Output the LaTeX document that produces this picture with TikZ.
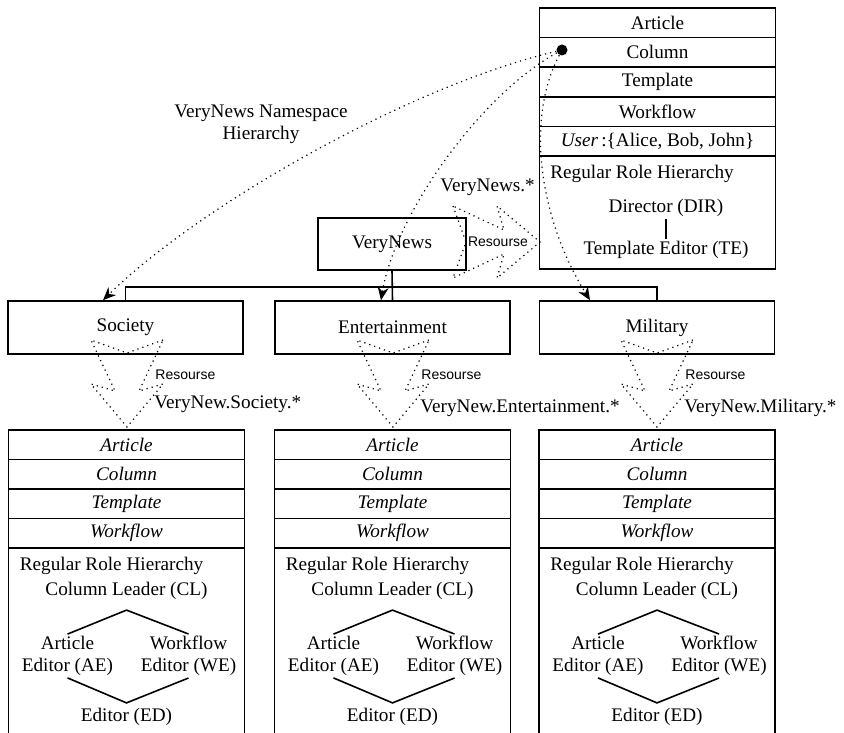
\documentclass[tikz,border=0pt]{standalone}
\usepackage{fontspec}
\setmainfont{Liberation Serif}
\newfontfamily\ressans{Liberation Sans}
\usetikzlibrary{arrows.meta,positioning}

\begin{document}
\begin{tikzpicture}[x=0.5pt, y=-0.5pt,
    lbl/.style={font=\fontsize{9.6}{10.8}\selectfont, inner sep=1pt},
    unitbox/.style={lbl, draw, line width=0.8pt, minimum width=117.5pt, minimum height=26.5pt, inner sep=0pt},
    rowbox/.style={lbl, draw, line width=0.8pt, minimum width=118pt, minimum height=14.75pt, inner sep=0pt},
    hierbox/.style={draw, line width=0.8pt, minimum width=118pt, inner sep=0pt, outer sep=0pt},
    restext/.style={font=\ressans\fontsize{7}{8}\selectfont, inner sep=0pt},
    resline/.style={dotted, line width=0.6pt},
    nsline/.style={dotted, line width=0.6pt, -{Stealth[length=6.5pt,width=5.5pt]}},
    hier/.style={line width=0.8pt},
    resarrow/.pic={\draw[resline] (0,-36) -- (13,0) -- (0,36) -- (51,12) -- (44,36) -- (87,0) -- (44,-36) -- (51,-12) -- cycle;}]
    \useasboundingbox (0,0) rectangle (844,732);
    \clip (0,0) rectangle (844,732);

    % top namespace box
    \foreach \nm/\txt [count=\i] in {art/Article, col/Column, tpl/Template, wf/Workflow}
        \node[rowbox, minimum height=14.8pt] (top-\nm) at (657.5, {22.8+(\i-1)*29.6}) {\txt};
    \node[rowbox, minimum height=14.8pt] (top-usr) at (657.5, 141.2) {\textit{User}\,:\{Alice, Bob, John\}};
    \node[hierbox, minimum height=56.5pt] (top-rrh) at (657.5, 212.5) {};
    \node[lbl, anchor=west] (top-rrh-t) at (548,174) {Regular Role Hierarchy};
    \node[lbl] (dir) at (666,208) {Director (DIR)};
    \node[lbl] (te) at (666,250) {Template Editor (TE)};
    \draw[hier] (dir) -- (te);
    \node[circle, fill, inner sep=0pt, minimum size=5.5pt] (dot) at (562,50) {};

    % namespace tree
    \node[unitbox, minimum width=74pt, minimum height=26pt, line width=0.9pt] (vn) at (392,244) {VeryNews};
    \node[unitbox] (soc) at (125.5,327.5) {Society};
    \node[unitbox] (ent) at (392.5,327.5) {Entertainment};
    \node[unitbox] (mil) at (657,327.5) {Military};
    \coordinate (bus) at (0,287);
    \draw[hier] (vn.south) -- (ent.north);
    \draw[hier] (soc.north) |- (mil.north |- bus) -- (mil.north);

    \node[lbl, align=center] (nslbl) at (261,124) {VeryNews Namespace\\Hierarchy};
    \draw[nsline] (dot) .. controls (412,85) and (200,205) .. ([xshift=-11.25pt]soc.north);
    \draw[nsline] (dot) .. controls (480,95) and (395,215) .. ([xshift=-5.75pt]ent.north);
    \draw[nsline] (dot) .. controls (525,120) and (540,220) .. ([xshift=-33.5pt]mil.north);

    % resource arrows
    \pic at (453,242) {resarrow};
    \node[restext] (vn-res) at (498,242) {Resourse};
    \node[lbl, anchor=west] (vn-pat) at (438,187) {VeryNews.*};
    \foreach \cx/\pat/\py in {127/Society/404, 393/Entertainment/408, 657/Military/408} {
        \pic[rotate=-90] at (\cx,340) {resarrow};
        \node[restext, anchor=west] at ({\cx+28},375) {Resourse};
        \node[lbl, anchor=west] at ({\cx+25},\py) {VeryNew.\pat.*};
    }

    % lower namespace boxes
    \foreach \nm/\cx in {soc/126.5, ent/392.5, mil/657} {
        \foreach \rw/\txt [count=\i] in {art/Article, col/Column, tpl/Template, wf/Workflow}
            \node[rowbox] (\nm-\rw) at (\cx, {444.75+(\i-1)*29.5}) {\textit{\txt}};
        \node[hierbox, minimum height=110pt, anchor=north] (\nm-rrh) at (\cx,548) {};
        \node[lbl, anchor=west] at ({\cx-109},566) {Regular Role Hierarchy};
        \node[lbl, inner ysep=5pt] (\nm-cl) at (\cx,591) {Column Leader (CL)};
        \node[lbl, align=center] (\nm-ae) at ({\cx-59},656) {Article\\Editor (AE)};
        \node[lbl, align=center] (\nm-we) at ({\cx+62},656) {Workflow\\Editor (WE)};
        \node[lbl, inner ysep=2.5pt] (\nm-ed) at (\cx,717) {Editor (ED)};
        \draw[hier] (\nm-ae.north) -- (\nm-cl.south) -- (\nm-we.north);
        \draw[hier] (\nm-ae.south) -- (\nm-ed.north) -- (\nm-we.south);
    }
\end{tikzpicture}
\end{document}
